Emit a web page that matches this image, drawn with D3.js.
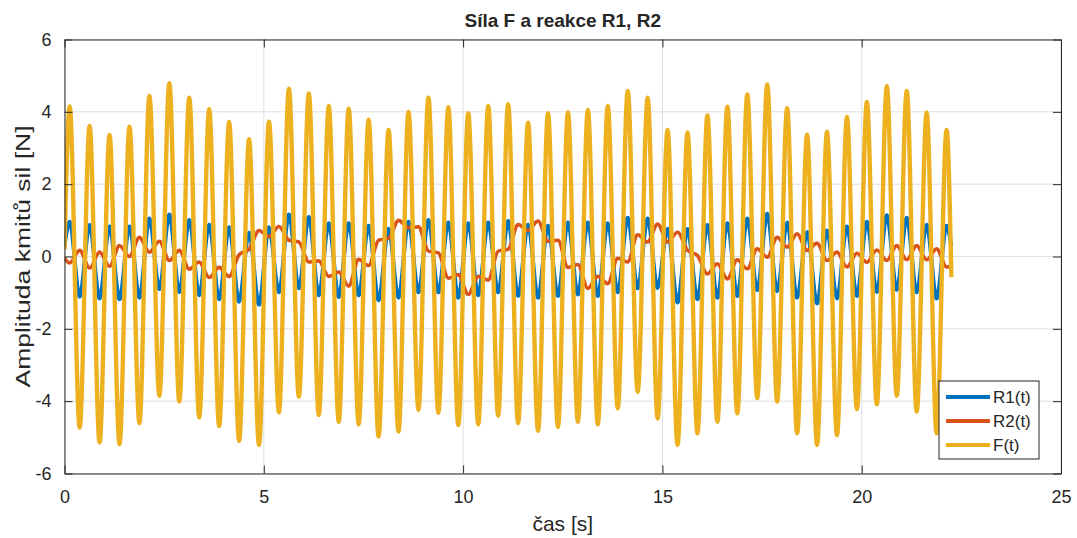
<!DOCTYPE html>
<html lang="cs">
<head>
<meta charset="UTF-8">
<script src="https://d3js.org/d3.v7.min.js"></script>
<style>
    body { margin: 0; background: #fff; }
    text { font-family: "Liberation Sans", Arial, sans-serif; fill: #262626; }
</style>
</head>
<body>
<div id="here"></div>
<script>
    // time of each turning point [s]
    const time = [0,
        0.13, 0.38, 0.63, 0.88, 1.13, 1.38, 1.63, 1.88, 2.13, 2.38,
        2.63, 2.88, 3.13, 3.38, 3.63, 3.88, 4.13, 4.38, 4.63, 4.88,
        5.13, 5.38, 5.63, 5.88, 6.13, 6.38, 6.63, 6.88, 7.13, 7.38,
        7.63, 7.88, 8.13, 8.38, 8.63, 8.88, 9.13, 9.38, 9.63, 9.88,
        10.13, 10.38, 10.63, 10.88, 11.13, 11.38, 11.63, 11.88, 12.13, 12.38,
        12.63, 12.88, 13.13, 13.38, 13.63, 13.88, 14.13, 14.38, 14.63, 14.88,
        15.13, 15.38, 15.63, 15.88, 16.13, 16.38, 16.63, 16.88, 17.13, 17.38,
        17.63, 17.88, 18.13, 18.38, 18.63, 18.88, 19.13, 19.38, 19.63, 19.88,
        20.13, 20.38, 20.63, 20.88, 21.13, 21.38, 21.63, 21.88, 22.13,
        22.25];

    const r1 = [0.3,
        0.96, -1.11, 0.87, -1.16, 0.83, -1.18, 0.83, -1.14, 1.05, -0.90,
        1.16, -0.98, 1.01, -1.07, 0.88, -1.18, 0.81, -1.25, 0.66, -1.33,
        0.81, -0.99, 1.16, -0.88, 1.09, -1.07, 0.92, -1.12, 0.92, -1.07,
        0.85, -1.21, 0.77, -1.14, 0.96, -0.99, 1.01, -0.99, 0.94, -1.14,
        0.92, -1.07, 0.94, -0.99, 0.98, -1.09, 0.88, -1.14, 0.85, -1.09,
        0.94, -1.05, 0.94, -1.09, 0.92, -0.99, 1.07, -0.88, 1.05, -0.87,
        0.77, -1.27, 0.76, -1.18, 0.87, -1.14, 0.92, -1.09, 1.05, -0.93,
        1.18, -0.96, 0.94, -1.14, 0.68, -1.30, 0.72, -1.16, 0.83, -1.09,
        0.96, -0.98, 1.14, -0.92, 1.07, -0.99, 0.88, -1.16, 0.85,
        0.3];

    const r2 = [-0.05,
        -0.18, 0.17, -0.32, 0.12, -0.27, 0.30, 0.00, 0.53, 0.12, 0.42,
        -0.11, 0.17, -0.35, -0.15, -0.58, -0.30, -0.55, 0.05, 0.20, 0.72,
        0.55, 0.83, 0.45, 0.40, -0.15, -0.12, -0.55, -0.43, -0.82, -0.08,
        -0.25, 0.45, 0.50, 1.00, 0.80, 0.82, 0.15, 0.10, -0.60, -0.50,
        -1.05, -0.55, -0.65, 0.15, 0.20, 0.88, 0.72, 0.98, 0.42, 0.45,
        -0.30, -0.22, -0.88, -0.55, -0.75, -0.05, -0.15, 0.60, 0.40, 0.90,
        0.40, 0.67, 0.17, 0.03, -0.48, -0.20, -0.62, -0.09, -0.34, 0.21,
        -0.02, 0.53, 0.26, 0.63, 0.17, 0.37, -0.11, 0.12, -0.29, 0.09,
        -0.16, 0.18, -0.11, 0.30, -0.09, 0.30, -0.09, 0.21, -0.29,
        -0.25];

    const force = [0.2,
        4.15, -4.73, 3.61, -5.14, 3.36, -5.19, 3.59, -4.61, 4.44, -3.85,
        4.79, -4.01, 4.39, -4.45, 4.07, -4.69, 3.72, -5.10, 3.24, -5.21,
        3.73, -4.31, 4.64, -3.88, 4.51, -4.38, 4.16, -4.57, 4.09, -4.64,
        3.78, -4.98, 3.50, -4.84, 4.00, -4.24, 4.39, -4.32, 4.13, -4.66,
        3.96, -4.64, 4.16, -4.40, 4.21, -4.61, 3.70, -4.82, 3.96, -4.71,
        3.98, -4.57, 4.05, -4.64, 4.16, -4.20, 4.58, -3.74, 4.39, -4.48,
        3.50, -5.21, 3.43, -4.89, 3.90, -4.57, 4.14, -4.34, 4.48, -3.92,
        4.76, -4.01, 4.10, -4.89, 3.37, -5.21, 3.45, -4.94, 3.86, -4.22,
        4.27, -4.09, 4.71, -3.85, 4.58, -4.29, 3.98, -4.89, 3.50,
        -0.57];

    const seriesNames = ["R1(t)", "R2(t)", "F(t)"];
    const seriesColors = ["#0072BD", "#D95319", "#EDB120"];
    const xTicks = [0, 5, 10, 15, 20, 25];
    const yTicks = [-6, -4, -2, 0, 2, 4, 6];

    const W = 1077, H = 538;
    const mLeft = 64.5, mRight = 1061, mTop = 39.5, mBottom = 473.5;

    const svg = d3.select("#here").append("svg")
        .attr("width", W).attr("height", H);

    const x = d3.scaleLinear().domain([0, 25]).range([mLeft, mRight]);
    const y = d3.scaleLinear().domain([-6, 6]).range([mBottom, mTop]);

    // grid
    svg.append("g").selectAll("line").data(xTicks).join("line")
        .attr("x1", d => x(d)).attr("x2", d => x(d))
        .attr("y1", mTop).attr("y2", mBottom)
        .attr("stroke", "#dfdfdf").attr("stroke-width", 1);
    svg.append("g").selectAll("line").data(yTicks).join("line")
        .attr("x1", mLeft).attr("x2", mRight)
        .attr("y1", d => y(d)).attr("y2", d => y(d))
        .attr("stroke", "#dfdfdf").attr("stroke-width", 1);

    svg.append("clipPath").attr("id", "plotclip")
        .append("rect").attr("x", mLeft).attr("y", mTop)
        .attr("width", mRight - mLeft).attr("height", mBottom - mTop);

    const line = d3.line()
        .x(d => x(d[0]))
        .y(d => y(d[1]))
        .curve(d3.curveMonotoneX);

    const series = [r1, r2, force];
    const widths = [4, 3.6, 4.4];
    const plot = svg.append("g").attr("clip-path", "url(#plotclip)");
    series.forEach((vals, i) => {
        plot.append("path")
            .datum(time.map((t, j) => [t, vals[j]]))
            .attr("fill", "none")
            .attr("stroke", seriesColors[i])
            .attr("stroke-width", widths[i])
            .attr("stroke-linejoin", "round")
            .attr("d", line);
    });

    // axes (box with inward ticks), plain hyphen for negatives like the original
    const tick = 8;
    const axFont = 18;
    const fmt = d => String(d);
    svg.append("g").attr("transform", `translate(0,${mBottom})`)
        .call(d3.axisBottom(x).tickValues(xTicks).tickFormat(fmt).tickSizeInner(-tick).tickSizeOuter(0).tickPadding(tick + 9));
    svg.append("g").attr("transform", `translate(${mLeft},0)`)
        .call(d3.axisLeft(y).tickValues(yTicks).tickFormat(fmt).tickSizeInner(-tick).tickSizeOuter(0).tickPadding(tick + 5));
    svg.append("g").attr("transform", `translate(0,${mTop})`)
        .call(d3.axisTop(x).tickValues(xTicks).tickSizeInner(-tick).tickSizeOuter(0).tickFormat(""));
    svg.append("g").attr("transform", `translate(${mRight},0)`)
        .call(d3.axisRight(y).tickValues(yTicks).tickSizeInner(-tick).tickSizeOuter(0).tickFormat(""));
    svg.selectAll(".domain, .tick line").attr("stroke", "#262626").attr("stroke-width", 1);
    svg.selectAll(".tick text")
        .style("font-family", '"Liberation Sans", Arial, sans-serif')
        .attr("font-size", axFont).attr("fill", "#262626");

    // title and labels
    svg.append("text")
        .attr("x", (mLeft + mRight) / 2).attr("y", 27)
        .attr("text-anchor", "middle")
        .attr("font-size", 19).attr("font-weight", "bold")
        .text("Síla F a reakce R1, R2");
    svg.append("text")
        .attr("x", (mLeft + mRight) / 2).attr("y", 531)
        .attr("text-anchor", "middle")
        .attr("font-size", 21)
        .text("čas [s]");
    svg.append("text")
        .attr("transform", `translate(30,${(mTop + mBottom) / 2}) rotate(-90)`)
        .attr("text-anchor", "middle")
        .attr("font-size", 21)
        .attr("textLength", 262)
        .attr("lengthAdjust", "spacingAndGlyphs")
        .text("Amplituda kmitů sil [N]");

    // legend
    const lg = svg.append("g").attr("transform", "translate(939,381)");
    lg.append("rect").attr("width", 100).attr("height", 78)
        .attr("fill", "#fff").attr("stroke", "#262626").attr("stroke-width", 1);
    seriesNames.forEach((name, i) => {
        const ly = 16 + i * 24;
        lg.append("line").attr("x1", 7).attr("x2", 51).attr("y1", ly).attr("y2", ly)
            .attr("stroke", seriesColors[i]).attr("stroke-width", 4);
        lg.append("text").attr("x", 54).attr("y", ly + 6)
            .attr("font-size", 17).text(name);
    });
</script>
</body>
</html>
